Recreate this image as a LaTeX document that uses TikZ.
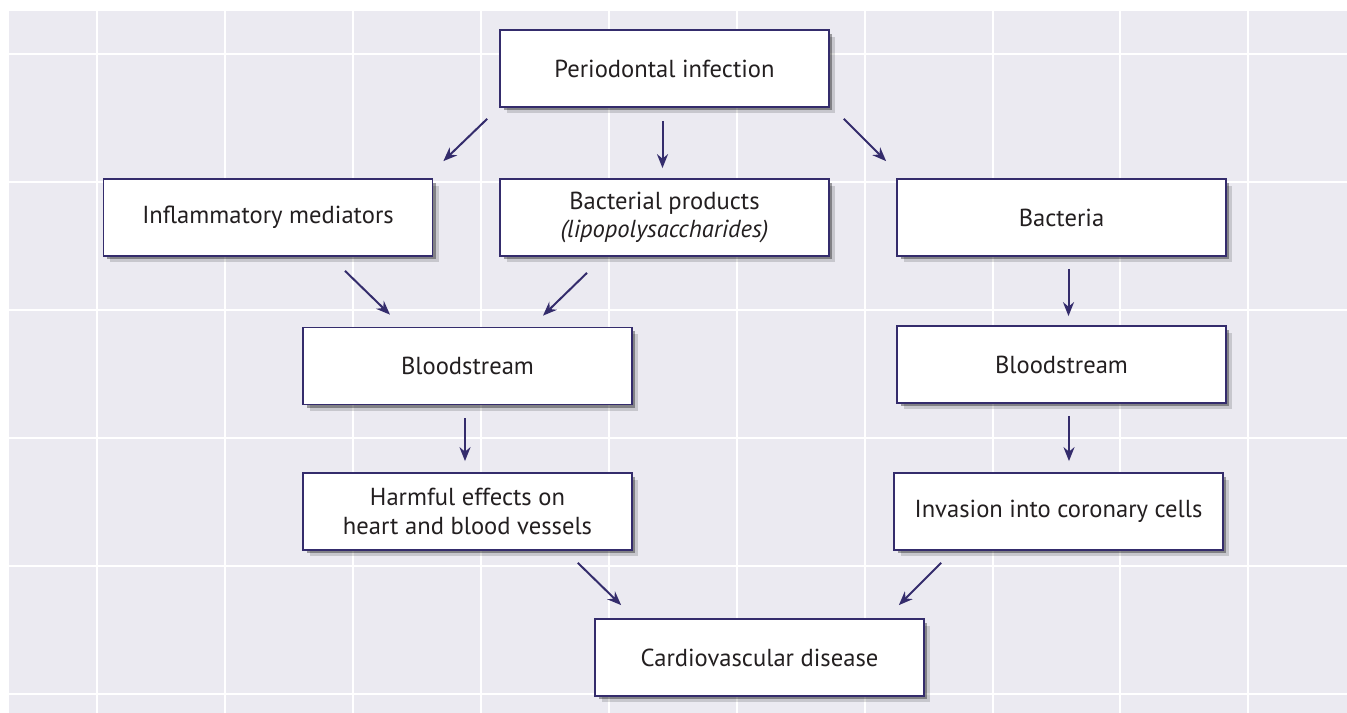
\documentclass[tikz,border=0pt]{standalone}
\usepackage{fontspec}
\setmainfont{PT Sans}
\usepackage{xcolor}
\usepackage{tikz}
\usetikzlibrary{arrows.meta, shadows, calc}
\definecolor{panel}{RGB}{235,234,241}
\definecolor{navy}{RGB}{52,44,108}
\definecolor{inkgray}{RGB}{35,31,32}
\tikzstyle{arrow} = [line width=0.04cm, navy, ->, >={Stealth[length=0.28cm, width=0.22cm]}]
\tikzstyle{gridline} = [white, line width=0.04cm]
\tikzstyle{stage} = [rectangle, draw=navy, line width=0.035cm, fill=white, text=inkgray, minimum width=6.58cm, minimum height=1.54cm, inner sep=0pt, align=center, font=\fontsize{14}{16}\selectfont, drop shadow={shadow xshift=0.13cm, shadow yshift=-0.13cm, fill=black, opacity=0.15}, drop shadow={shadow xshift=0.07cm, shadow yshift=-0.07cm, fill=black, opacity=0.35}]

\begin{document}
\begin{tikzpicture}[x=0.02cm, y=-0.02cm]

\useasboundingbox (0,0) rectangle (1347,713);
\fill[panel] (9,11) rectangle (1347,713);
\foreach \gx in {97,225,353,481,609,737,865,993,1120,1248}
    \draw[gridline] (\gx,11) -- (\gx,713);
\foreach \gy in {54,182,310,438,566,694}
    \draw[gridline] (9,\gy) -- (1347,\gy);

\node[stage] (peri) at (664.5,68.5) {Periodontal infection};
\node[stage] (inflam) at (268,217.5) {Inflammatory mediators};
\node[stage] (bactprod) at (664.5,217.5) {Bacterial products\\\textit{(lipopolysaccharides)}};
\node[stage] (bacteria) at (1061.5,217.5) {Bacteria};
\node[stage] (bloodL) at (467.5,366) {Bloodstream};
\node[stage] (bloodR) at (1061.5,364.5) {Bloodstream};
\node[stage] (harm) at (467.5,511.5) {Harmful effects on\\heart and blood vessels};
\node[stage] (invasion) at (1058.5,511.5) {Invasion into coronary cells};
\node[stage] (cvd) at (759.5,657.5) {Cardiovascular disease};

\draw[arrow] ($(peri.south west)+(-12,11)$) -- ($(inflam.north east)+(10,-17)$);
\draw[arrow] ($(peri.south)+(-2,13)$) -- ($(bactprod.north)+(-2,-10)$);
\draw[arrow] ($(peri.south east)+(14,11)$) -- ($(bacteria.north west)+(-10,-17)$);
\draw[arrow] ($(inflam.south)+(77,14)$) -- ($(bloodL.north)+(-77.5,-12)$);
\draw[arrow] ($(bactprod.south)+(-77.5,16)$) -- ($(bloodL.north)+(75.5,-11)$);
\draw[arrow] ($(bacteria.south)+(7,12)$) -- ($(bloodR.north)+(7,-9)$);
\draw[arrow] ($(bloodL.south)+(-2.5,13)$) -- ($(harm.north)+(-2.5,-11)$);
\draw[arrow] ($(bloodR.south)+(7.5,12)$) -- ($(invasion.north)+(10.5,-11)$);
\draw[arrow] ($(harm.south east)+(-55,12)$) -- ($(cvd.north west)+(27,-13)$);
\draw[arrow] ($(invasion.south west)+(48,12)$) -- ($(cvd.north east)+(-26,-13)$);

\end{tikzpicture}
\end{document}
